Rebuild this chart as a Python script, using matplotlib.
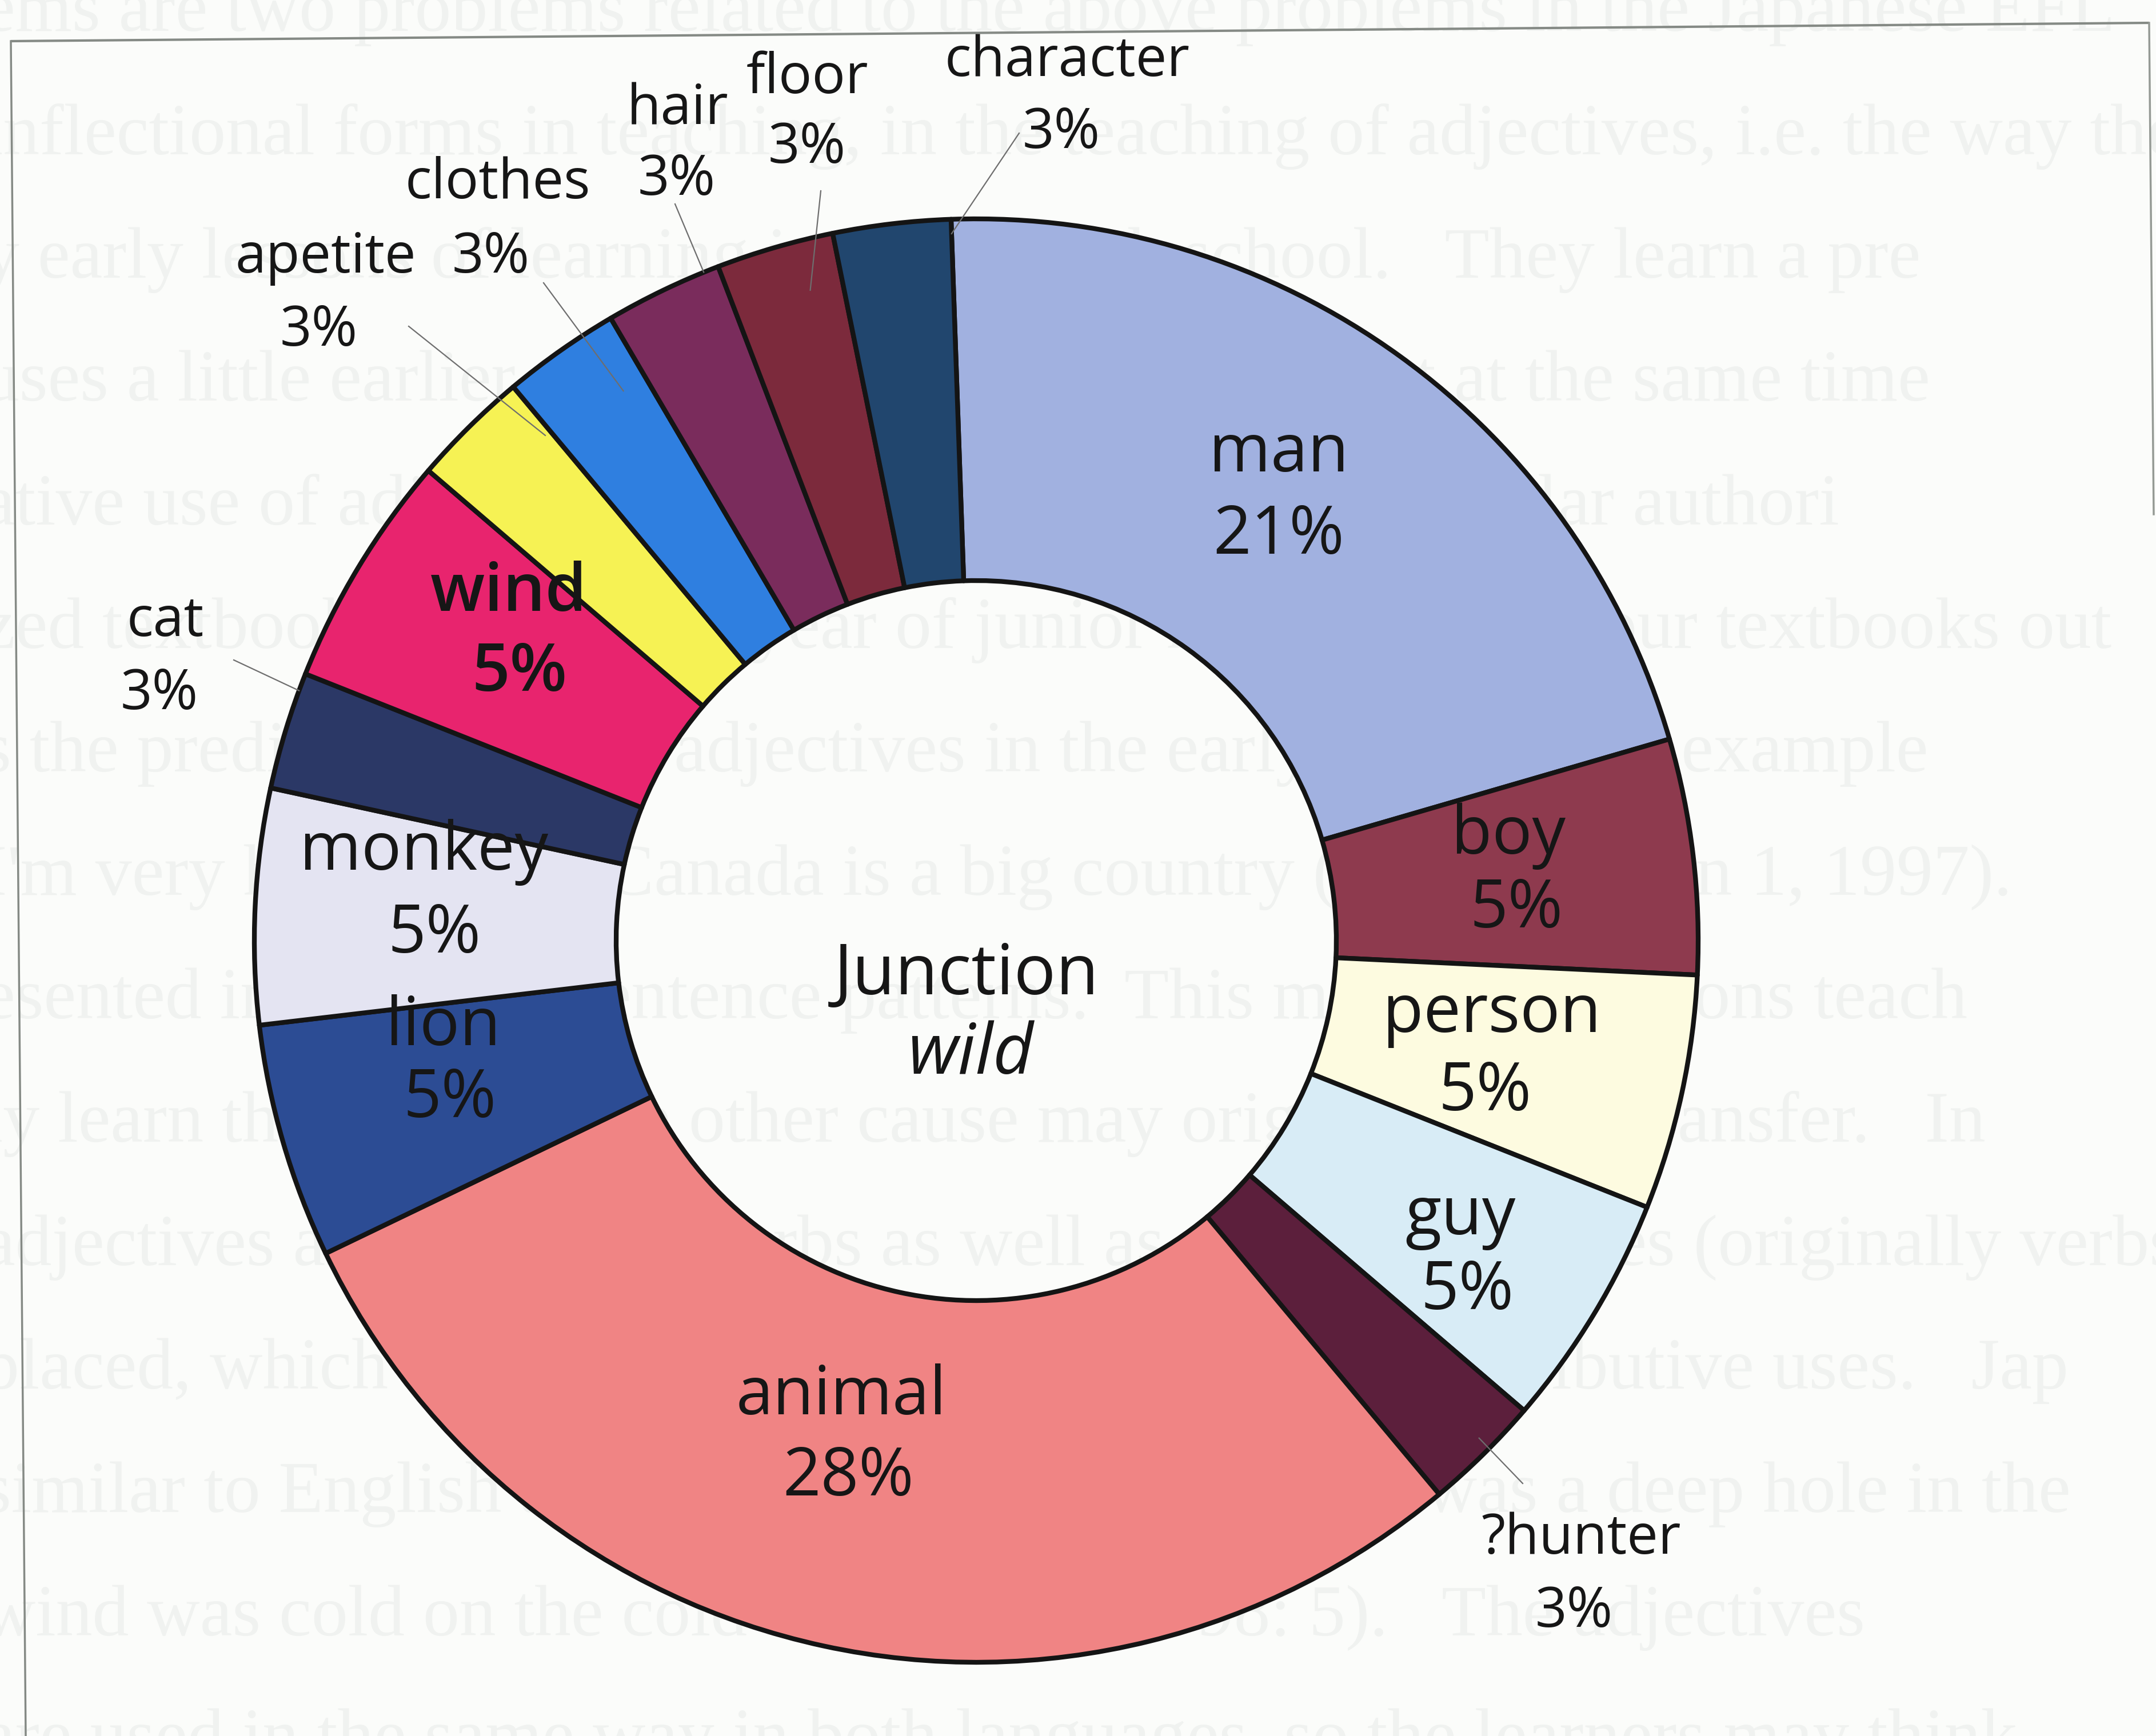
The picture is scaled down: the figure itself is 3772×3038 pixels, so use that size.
import matplotlib
matplotlib.use('Agg')
import matplotlib.pyplot as plt
import numpy as np

# ---------------- data ----------------
categories = ['man', 'boy', 'person', 'guy', '?hunter', 'animal', 'lion',
              'monkey', 'cat', 'wind', 'apetite', 'clothes', 'hair', 'floor',
              'character']
counts = [8, 2, 2, 2, 1, 11, 2, 2, 1, 2, 1, 1, 1, 1, 1]
pct_labels = ['21%', '5%', '5%', '5%', '3%', '28%', '5%', '5%', '3%', '5%',
              '3%', '3%', '3%', '3%', '3%']
colors = ['#a1b1e0', '#8e3a4e', '#fdfbe0', '#d8ecf6', '#5c1f3c', '#f08484',
          '#2c4c94', '#e4e4f2', '#2b3866', '#e8246e', '#f6f254', '#2f7fe0',
          '#7a2c5c', '#7c2a3c', '#21466e']
center_title = ['Junction', 'wild']

# faint bleed-through text of the scanned page
page_lines = [
    "ems are two problems related to the above problems in the Japanese EFL",
    "inflectional forms in teaching, in the teaching of adjectives, i.e. the way they",
    "y early lessons of learning in junior high school.   They learn a pre",
    "uses a little earlier than attributive use, but almost at the same time",
    "ative use of adjectives.  I checked the four most popular authori",
    "zed textbooks for the first year of junior high school.  Four textbooks out",
    "s the predicative use of adjectives in the early lessons, for example",
    "I'm very hungry, and Canada is a big country (New Horizon 1, 1997).",
    "esented in the same sentence patterns.  This means the lessons teach",
    "ly learn them first.  The other cause may originate in L1 transfer.   In",
    "adjectives and adjective-verbs as well as verbal adjectives (originally verbs",
    "placed, which can be used both in predicative and attributive uses.   Jap",
    "similar to English adjectives, for example: There was a deep hole in the",
    "wind was cold on the cold night (Kiss, 1998: 5).   The adjectives",
    "are used in the same way in both languages, so the learners may think",
]

# ---------------- layout ----------------
W, H = 3772, 3038
BG = '#fbfcfa'
FONT = ['Open Sans', 'DejaVu Sans']

fig = plt.figure(figsize=(W / 100, H / 100), dpi=100, facecolor=BG)
ax = fig.add_axes([0, 0, 1, 1])

# background faint text (scan bleed-through)
for i, line in enumerate(page_lines):
    ax.text(-30, H - (23 + 216 * i), line, fontsize=92, family='Liberation Serif',
            color='#f0f2f0', ha='left', va='center', zorder=0)

# frame of the figure box (slightly skewed scan)
ax.plot([19, 3760], [H - 72, H - 40], color='#858a85', lw=3, zorder=1,
        solid_capstyle='butt')
ax.plot([19, 45], [H - 72, 0], color='#858a85', lw=2.5, zorder=1)
ax.plot([3760, 3768], [H - 40, H - 900], color='#959a95', lw=2.5, zorder=1)

cx, cy = 1708, H - 1646
R, r_in = 1263, 630
wedges, _ = ax.pie(counts, colors=colors, startangle=92, counterclock=False,
                   center=(cx, cy), radius=R, frame=True,
                   wedgeprops=dict(width=R - r_in, edgecolor='#141414',
                                   linewidth=6, joinstyle='round'))
for w in wedges:
    w.set_zorder(2)

ax.set_xlim(0, W)
ax.set_ylim(0, H)
ax.set_aspect('auto')
ax.axis('off')

# label positions (pixel layout, y from top): name pos, pct pos
label_pos = {
    'man':       ((2237, 794), (2237, 938)),
    'boy':       ((2639, 1463), (2653, 1593)),
    'person':    ((2610, 1775), (2598, 1912)),
    'guy':       ((2555, 2129), (2567, 2261)),
    '?hunter':   ((2766, 2694), (2754, 2822)),
    'animal':    ((1472, 2444), (1484, 2586)),
    'lion':      ((775, 1799), (787, 1924)),
    'monkey':    ((741, 1491), (760, 1636)),
    'cat':       ((289, 1087), (279, 1215)),
    'wind':      ((890, 1039), (909, 1179)),
    'apetite':   ((570, 452), (558, 580)),
    'clothes':   ((871, 322), (859, 452)),
    'hair':      ((1186, 192), (1184, 315)),
    'floor':     ((1412, 137), (1412, 260)),
    'character': ((1867, 108), (1857, 233)),
}
outside = {'?hunter', 'cat', 'apetite', 'clothes', 'hair', 'floor', 'character'}
bold = {'wind'}

# leader lines: label end (pixel layout) + anchor (fraction through wedge, radius frac)
leaders = {
    'character': ((1783, 233), 1.00, 0.98),
    'floor':     ((1436, 334), 0.70, 0.93),
    'hair':      ((1181, 357), 0.87, 1.00),
    'clothes':   ((951, 495), 0.76, 0.905),
    'apetite':   ((715, 571), 0.94, 0.92),
    'cat':       ((409, 1155), 0.85, 1.00),
    '?hunter':   ((2664, 2596), 0.43, 0.98),
}

for w, name, pct in zip(wedges, categories, pct_labels):
    (nx, ny), (px, py) = label_pos[name]
    size = 70 if name in outside else 84
    weight = 'semibold' if name in bold else 'normal'
    ax.text(nx, H - ny, name, fontsize=size, family=FONT, color='#161616',
            ha='center', va='center', fontweight=weight, zorder=4)
    ax.text(px, H - py, pct, fontsize=size, family=FONT, color='#161616',
            ha='center', va='center', fontweight=weight, zorder=4)
    if name in leaders:
        (lx, ly), f, rf = leaders[name]
        ang = np.deg2rad(w.theta2 - f * (w.theta2 - w.theta1))
        ax_, ay_ = cx + rf * R * np.cos(ang), cy + rf * R * np.sin(ang)
        ax.plot([lx, ax_], [H - ly, ay_], color='#6e6e6e', lw=1.6, zorder=3)

ax.text(1691, H - 1708, center_title[0], fontsize=88, family=FONT,
        color='#161616', ha='center', va='center', zorder=4)
ax.text(1698, H - 1847, center_title[1], fontsize=88, family=FONT,
        color='#161616', ha='center', va='center', style='italic', zorder=4)

fig.savefig('out.png', dpi=100, facecolor=BG)
